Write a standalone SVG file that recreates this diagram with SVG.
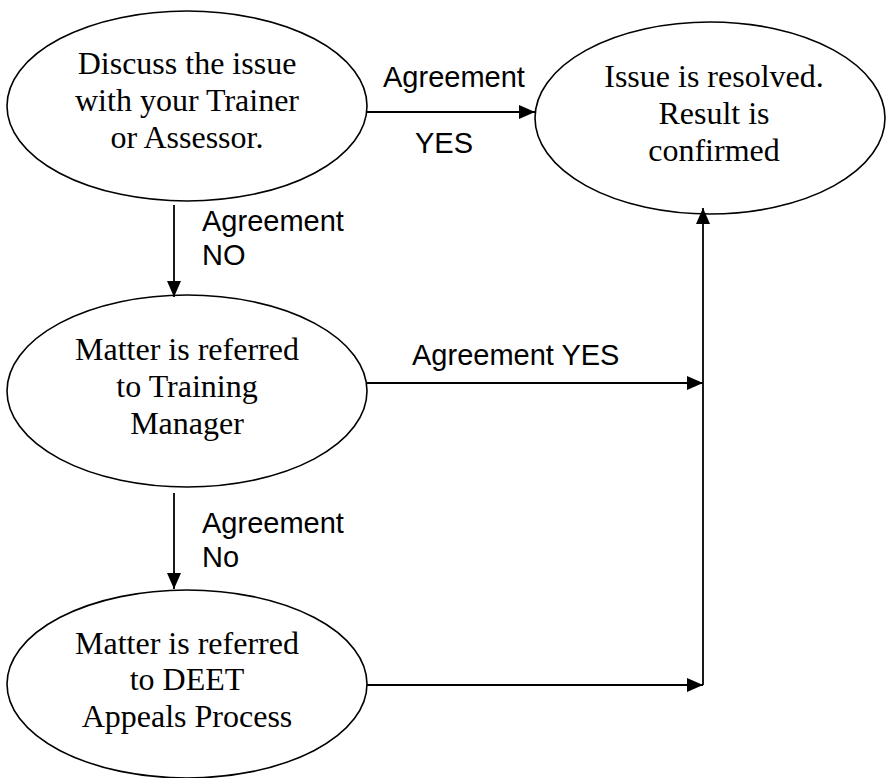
<svg xmlns="http://www.w3.org/2000/svg" width="886" height="778" viewBox="0 0 886 778">
<style>
.node ellipse{fill:#fff;stroke:#000;stroke-width:1.6}
.node text{font-family:"Liberation Serif","Times New Roman",serif;font-size:32px;fill:#000;text-anchor:middle}
.lbl{font-family:"Liberation Sans",Arial,sans-serif;font-size:29px;fill:#000}
.conn{fill:none;stroke:#000;stroke-width:1.8}
</style>
<defs>
<marker id="ah" markerUnits="userSpaceOnUse" markerWidth="16" markerHeight="14" viewBox="0 0 16 14" refX="16" refY="7" orient="auto">
<path d="M0,0 L16,7 L0,14 Z" fill="#000"/>
</marker>
</defs>
<g id="n1" class="node">
<ellipse cx="187" cy="106" rx="180" ry="95"/>
<text x="187" y="74">Discuss the issue</text>
<text x="187" y="111">with your Trainer</text>
<text x="187" y="148">or Assessor.</text>
</g>
<g id="n4" class="node">
<ellipse cx="710" cy="118" rx="175" ry="96"/>
<text x="714" y="87">Issue is resolved.</text>
<text x="714" y="124">Result is</text>
<text x="714" y="161">confirmed</text>
</g>
<g id="n2" class="node">
<ellipse cx="187" cy="391" rx="180" ry="96"/>
<text x="187" y="360">Matter is referred</text>
<text x="187" y="397">to Training</text>
<text x="187" y="434">Manager</text>
</g>
<g id="n3" class="node">
<ellipse cx="187" cy="684" rx="180" ry="94"/>
<text x="187" y="654">Matter is referred</text>
<text x="187" y="690">to DEET</text>
<text x="187" y="727">Appeals Process</text>
</g>
<g id="connectors">
<line class="conn" x1="367" y1="112" x2="535" y2="112" marker-end="url(#ah)"/>
<line class="conn" x1="174" y1="205" x2="174" y2="297" marker-end="url(#ah)"/>
<line class="conn" x1="174" y1="493" x2="174" y2="589" marker-end="url(#ah)"/>
<line class="conn" x1="367" y1="383" x2="703" y2="383" marker-end="url(#ah)"/>
<line class="conn" x1="367" y1="685" x2="703" y2="685" marker-end="url(#ah)"/>
<line class="conn" x1="703" y1="685" x2="703" y2="208" marker-end="url(#ah)"/>
</g>
<g id="labels">
<text class="lbl" x="383" y="87">Agreement</text>
<text class="lbl" x="415" y="153">YES</text>
<text class="lbl" x="202" y="231">Agreement</text>
<text class="lbl" x="202" y="265">NO</text>
<text class="lbl" x="412" y="365">Agreement YES</text>
<text class="lbl" x="202" y="533">Agreement</text>
<text class="lbl" x="202" y="567">No</text>
</g>
</svg>
